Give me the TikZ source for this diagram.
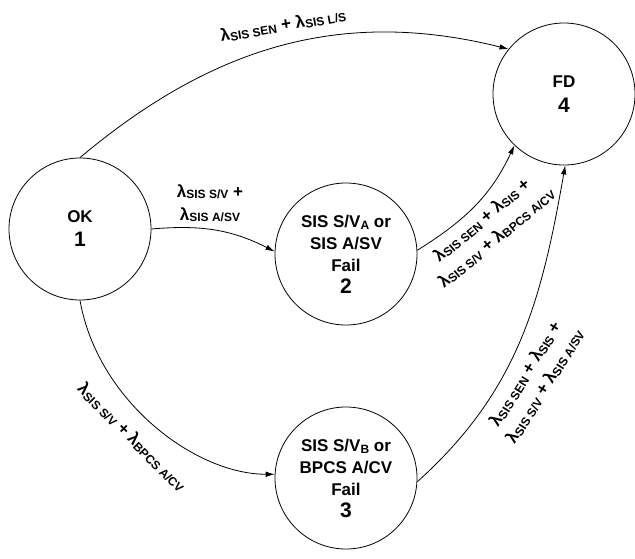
\documentclass[tikz,border=0pt]{standalone}
\usepackage{fontspec}
\setmainfont{Liberation Sans}
\usetikzlibrary{arrows.meta}

\newcommand{\lam}[1]{λ\raisebox{-1.5pt}{\fontsize{12}{12}\selectfont #1}}
\newcommand{\subtxt}[1]{\raisebox{-2pt}{\fontsize{12}{12}\selectfont #1}}
\newcommand{\statenum}[1]{{\fontsize{21}{21}\selectfont #1}}

\begin{document}
\begin{tikzpicture}[x=1pt,y=1pt,
  state/.style={draw,circle,line width=0.8pt,minimum size=142pt,inner sep=0pt,
    align=center,font=\fontsize{17}{22}\selectfont\bfseries},
  lbl/.style={align=center,inner sep=0pt,font=\fontsize{17}{23}\selectfont\bfseries},
  arr/.style={line width=0.8pt,-{Latex[length=9pt,width=5.5pt]}}]
\useasboundingbox (0,0) rectangle (635,-558);

% states
\node[state] (ok) at (80,-229) {OK\\[2pt]\statenum{1}};
\node[state] (sva) at (346,-254) {SIS S/V\subtxt{A} or\\SIS A/SV\\Fail\\\statenum{2}};
\node[state] (svb) at (346,-478) {SIS S/V\subtxt{B} or\\BPCS A/CV\\Fail\\\statenum{3}};
\node[state] (fd) at (564,-94) {FD\\[3pt]\statenum{4}};

% transitions
\draw[arr] (ok.90) to[out=40,in=166] (fd.141);
\draw[arr] (ok.0) to[out=5,in=153] (sva.178);
\draw[arr] (ok.270) to[out=-80,in=180,in looseness=0.78] (svb.177);
\draw[arr] (sva.3) to[out=32,in=-115] (fd.226);
\draw[arr] (svb.-3) to[out=42,in=-100] (fd.-89);

% rates
\node[lbl,rotate=10] (r14) at (283,-25) {\lam{SIS SEN} + \lam{SIS L/S}};
\node[lbl] (r12) at (210,-203) {\lam{SIS S/V} +\\\lam{SIS A/SV}};
\node[lbl,rotate=-45] (r13) at (132,-437) {\lam{SIS S/V} + \lam{BPCS A/CV}};
\node[lbl,rotate=40] (r24) at (489,-229) {\lam{SIS SEN} + \lam{SIS} +\\\lam{SIS S/V} + \lam{BPCS A/CV}};
\node[lbl,rotate=58] (r34) at (535,-380) {\lam{SIS SEN} + \lam{SIS} +\\\lam{SIS S/V} + \lam{SIS A/SV}};
\end{tikzpicture}
\end{document}
